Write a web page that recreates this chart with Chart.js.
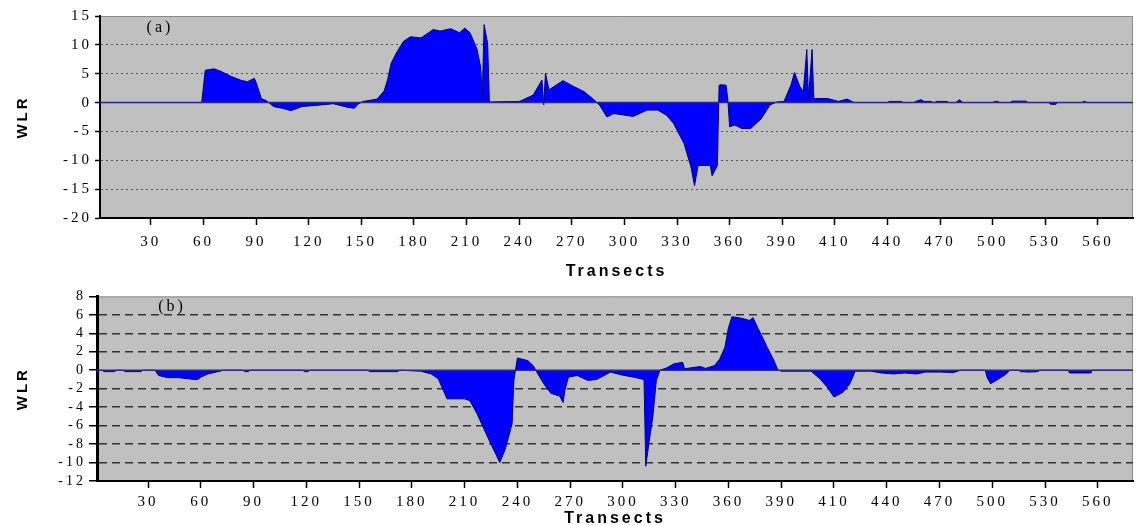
<!DOCTYPE html>
<html>
<head>
<meta charset="utf-8">
<script src="https://cdn.jsdelivr.net/npm/chart.js@4.4.1/dist/chart.umd.min.js"></script>
<style>
    body { margin: 0; background: #fff; }
    #wrap { position: relative; width: 1136px; height: 525px; overflow: hidden; }
    canvas { position: absolute; left: 0; }
    #chartA { top: 0; }
    #chartB { top: 285px; }
</style>
</head>
<body>
<div id="wrap">
    <canvas id="chartA" width="1136" height="285"></canvas>
    <canvas id="chartB" width="1136" height="245"></canvas>
</div>
<script>
// x axis labels (Excel category labels, one every 30 transects)
const tickLabels = ['30', '60', '90', '120', '150', '180', '210', '240', '270', '300',
    '330', '360', '390', '410', '440', '470', '500', '530', '560'];
const tickStep = 30;

// panel (a)
const aPos = [1, 59, 61, 66, 70, 76, 81, 85, 89, 90, 93, 96, 100, 105, 110, 116, 127, 134, 142, 146,
    148, 151, 159, 163, 165, 167, 170, 174, 178, 184, 191, 195, 201, 206, 209, 212, 216, 218, 219, 220,
    222, 223, 240, 241, 248, 253, 254, 255, 257, 265, 271, 277, 283, 286, 290, 294, 305, 313, 319, 324,
    328, 334, 338, 340, 342, 349, 350, 353, 354, 355, 358, 359, 360, 363, 367, 372, 378, 383, 387, 391,
    395, 397, 400, 402, 404, 405, 407, 408, 416, 422, 427, 431, 450, 451, 458, 459, 465, 466, 469, 471,
    475, 476, 477, 478, 484, 485, 489, 491, 493, 510, 511, 513, 514, 520, 521, 529, 530, 542, 543, 546,
    547, 561, 562, 564, 590];
const aWlr = [0, 0, 5.6, 5.85, 5.4, 4.5, 3.9, 3.6, 4.2, 3.5, 0.7, 0.3, -0.7, -1.0, -1.4, -0.7, -0.4, -0.2, -0.8, -1.0,
    -0.3, 0.2, 0.6, 2.0, 4.0, 6.8, 8.6, 10.6, 11.4, 11.2, 12.65, 12.4, 12.8, 12.1, 12.9, 12.1, 9.2, 6.2, 1.3, 13.5,
    10.3, 0.1, 0.2, 0.3, 1.3, 3.9, -0.4, 5.1, 2.2, 3.8, 2.8, 1.9, 0.4, -0.5, -2.5, -1.9, -2.4, -1.3, -1.3, -2.2,
    -3.6, -7.1, -11.2, -14.4, -10.9, -10.9, -12.7, -10.9, 3.0, 3.1, 3.0, 0.4, -4.2, -3.9, -4.5, -4.5, -2.8, -0.4, 0.1, 0.2,
    3.05, 5.2, 2.8, 1.9, 9.2, 0.7, 9.2, 0.7, 0.7, 0.2, 0.6, 0, 0, 0.2, 0.2, 0, 0, 0.2, 0.5, 0.2,
    0.2, 0, 0, 0.2, 0.2, 0, 0, 0.5, 0, 0, 0.2, 0.2, 0, 0, 0.25, 0.25, 0, 0, -0.3, -0.3,
    0, 0, 0.25, 0, 0];

// panel (b)
const bPos = [1, 4, 5, 11, 12, 16, 17, 26, 27, 34, 36, 41, 47, 53, 58, 60, 64, 71, 73, 84,
    85, 87, 88, 118, 119, 121, 122, 155, 156, 172, 173, 185, 191, 195, 197, 200, 210, 213, 217, 223,
    230, 233, 237, 238, 240, 246, 249, 251, 255, 259, 264, 266, 267, 269, 274, 280, 285, 293, 299, 306,
    312, 313, 315, 317, 319, 321, 325, 329, 334, 335, 344, 347, 352, 355, 358, 360, 362, 367, 372, 374,
    377, 378, 382, 386, 388, 390, 407, 412, 416, 420, 425, 429, 432, 441, 447, 454, 460, 467, 472, 480,
    488, 492, 506, 507, 509, 514, 518, 520, 525, 526, 531, 536, 537, 553, 554, 566, 567, 590];
const bWlr = [0, 0, -0.15, -0.15, 0, 0, -0.15, -0.15, 0, 0, -0.57, -0.8, -0.8, -0.93, -1.03, -0.75, -0.4, -0.1, 0, 0,
    -0.15, -0.15, 0, 0, -0.15, -0.15, 0, 0, -0.15, -0.15, 0, -0.1, -0.4, -0.93, -1.8, -3.1, -3.1, -3.3, -4.7, -7.2,
    -10.0, -8.6, -5.8, -1.1, 1.33, 1.04, 0.5, -0.2, -1.46, -2.5, -2.8, -3.5, -2.2, -0.75, -0.57, -1.1, -1.0, -0.2, -0.5, -0.75,
    -1.0, -10.4, -7.6, -5.05, -1.1, 0, 0.26, 0.7, 0.86, 0.16, 0.4, 0.2, 0.5, 1.2, 2.5, 4.6, 5.8, 5.65, 5.4, 5.7,
    4.45, 4.1, 2.5, 1.0, 0.05, -0.1, -0.1, -0.93, -1.8, -2.9, -2.4, -1.46, -0.1, -0.1, -0.3, -0.4, -0.3, -0.4, -0.2, -0.2,
    -0.25, 0, 0, -0.75, -1.46, -0.9, -0.4, 0, 0, -0.15, -0.2, -0.15, 0, 0, -0.3, -0.3, 0, 0];

// grey plot area with light top/right frame
const plotBackground = {
    id: 'plotBackground',
    beforeDraw(chart) {
        const { ctx, chartArea: a } = chart;
        ctx.save();
        ctx.fillStyle = '#c0c0c0';
        ctx.fillRect(a.left, a.top, a.right - a.left, a.bottom - a.top);
        ctx.strokeStyle = '#8a8a8a';
        ctx.lineWidth = 1;
        ctx.beginPath();
        ctx.moveTo(a.left, a.top + 0.5);
        ctx.lineTo(a.right - 0.5, a.top + 0.5);
        ctx.lineTo(a.right - 0.5, a.bottom);
        ctx.stroke();
        ctx.restore();
    }
};

// the dark baseline at WLR = 0
const zeroLine = {
    id: 'zeroLine',
    afterDatasetsDraw(chart) {
        const { ctx, chartArea: a } = chart;
        const y = chart.scales.y.getPixelForValue(0);
        ctx.save();
        ctx.strokeStyle = '#2a2a8c';
        ctx.lineWidth = 1.5;
        ctx.beginPath();
        ctx.moveTo(a.left, y);
        ctx.lineTo(a.right, y);
        ctx.stroke();
        ctx.restore();
    }
};

const panelLabel = {
    id: 'panelLabel',
    afterDraw(chart, args, opts) {
        const { ctx, chartArea: a } = chart;
        ctx.save();
        ctx.font = '16px "Liberation Serif"';
        ctx.fillStyle = '#000';
        ctx.textAlign = 'center';
        ctx.textBaseline = 'middle';
        ctx.fillText(opts.text, a.left + opts.dx, a.top + opts.dy);
        ctx.restore();
    }
};

// wide-set lettering as in the original figure
const spacing = {
    id: 'spacing',
    beforeLayout(chart) { if ('letterSpacing' in chart.ctx) chart.ctx.letterSpacing = '3px'; },
    beforeDraw(chart) { if ('letterSpacing' in chart.ctx) chart.ctx.letterSpacing = '3px'; }
};

function makeChart(id, pos, wlr, cfg) {
    const ctx = document.getElementById(id).getContext('2d');
    return new Chart(ctx, {
        type: 'line',
        data: {
            datasets: [{
                data: pos.map((x, i) => ({ x: x, y: wlr[i] })),
                fill: 'origin',
                backgroundColor: '#0000ff',
                borderColor: '#000080',
                borderWidth: 1,
                pointRadius: 0,
                tension: 0
            }]
        },
        plugins: [spacing, plotBackground, zeroLine, panelLabel],
        options: {
            responsive: false,
            animation: false,
            layout: { padding: { top: cfg.top, right: 3, left: 0, bottom: 0 } },
            plugins: {
                legend: { display: false },
                tooltip: { enabled: false },
                panelLabel: { text: cfg.label, dx: cfg.labelDx, dy: cfg.labelDy }
            },
            scales: {
                x: {
                    type: 'linear',
                    bounds: 'data',
                    min: 1,
                    max: 590,
                    afterBuildTicks: s => { s.ticks = tickLabels.map((t, i) => ({ value: tickStep * (i + 1) })); },
                    afterFit: s => { s.height = cfg.xHeight; },
                    ticks: {
                        autoSkip: false,
                        maxRotation: 0,
                        padding: cfg.xPad,
                        color: '#000',
                        font: { family: 'Liberation Serif', size: 15 },
                        callback: (v, i) => tickLabels[i]
                    },
                    grid: { drawOnChartArea: false, tickLength: 7, tickColor: '#000', tickWidth: 1.5 },
                    border: { color: '#000', width: 2 },
                    title: {
                        display: true,
                        text: 'Transects',
                        color: '#000',
                        font: { family: 'Liberation Sans', weight: 'bold', size: 16 },
                        padding: { top: 0, bottom: cfg.titlePad }
                    }
                },
                y: {
                    min: cfg.yMin,
                    max: cfg.yMax,
                    afterFit: s => { s.width = cfg.yWidth; },
                    ticks: {
                        stepSize: cfg.yStep,
                        autoSkip: false,
                        padding: 3,
                        color: '#000',
                        font: { family: 'Liberation Serif', size: cfg.yFont }
                    },
                    grid: {
                        color: c => (c.tick.value === 0 || c.tick.value === cfg.yMin || c.tick.value === cfg.yMax)
                            ? 'rgba(0,0,0,0)' : cfg.gridColor,
                        lineWidth: cfg.gridWidth,
                        tickLength: cfg.yTick,
                        tickColor: '#000',
                        tickWidth: 1.5
                    },
                    border: { color: '#000', width: cfg.yBorder, dash: cfg.dash },
                    title: {
                        display: true,
                        text: 'WLR',
                        color: '#000',
                        font: { family: 'Liberation Sans', weight: 'bold', size: 15 },
                        padding: { top: 14 }
                    }
                }
            }
        }
    });
}

makeChart('chartA', aPos, aWlr, {
    top: 16, xHeight: 67, xPad: 8, titlePad: 4, yWidth: 100, yFont: 15,
    yMin: -20, yMax: 15, yStep: 5, yTick: 5, yBorder: 2,
    gridColor: '#555', gridWidth: 1, dash: [2, 3],
    label: '(a)', labelDx: 60, labelDy: 12
});

makeChart('chartB', bPos, bWlr, {
    top: 10, xHeight: 49, xPad: 5, titlePad: 2, yWidth: 97, yFont: 14,
    yMin: -12, yMax: 8, yStep: 2, yTick: 8, yBorder: 3,
    gridColor: '#333', gridWidth: 1.5, dash: [8, 5],
    label: '(b)', labelDx: 75, labelDy: 10
});
</script>
</body>
</html>
